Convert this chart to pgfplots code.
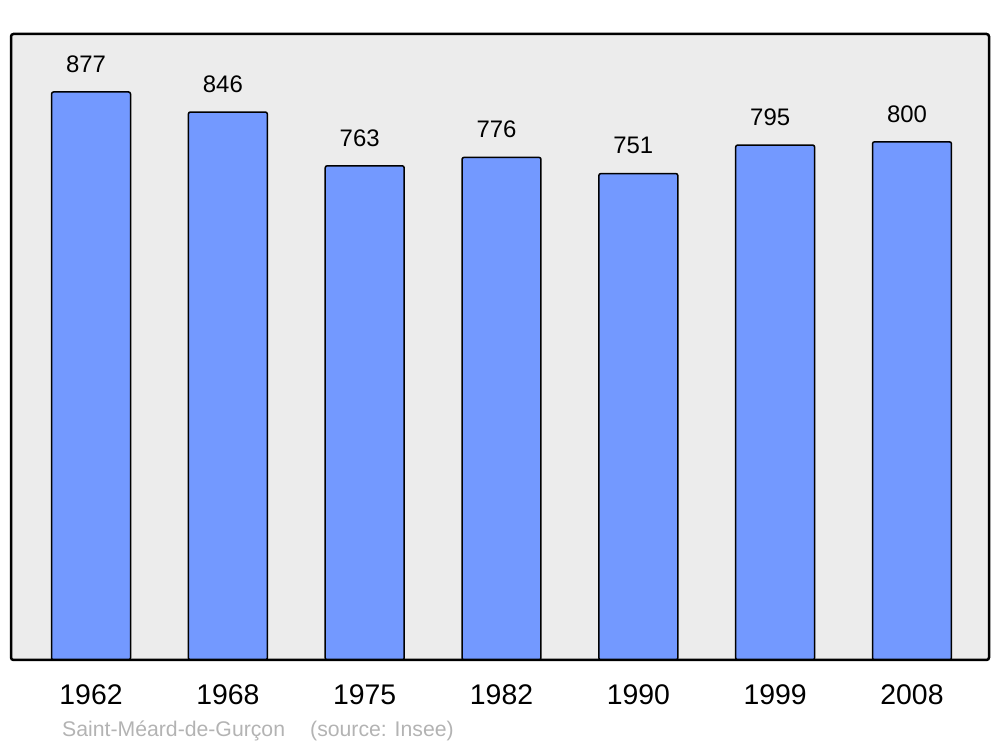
\documentclass[border=0pt]{standalone}
\usepackage{pgfplots}
\pgfplotsset{compat=1.18}
\usepackage{fontspec}
\setmainfont{Liberation Sans}
\definecolor{barblue}{HTML}{7399FF}
\definecolor{bgc}{HTML}{ECECEC}
\definecolor{foot}{HTML}{B3B3B3}
\begin{document}
\begin{tikzpicture}[x=1bp,y=1bp]
\path[use as bounding box] (0,0) rectangle (1000,747);
\begin{axis}[
  at={(11bp,87bp)}, anchor=south west,
  scale only axis, width=978bp, height=626bp,
  xmin=-0.585, xmax=6.563, ymin=0, ymax=966.5,
  axis background/.style={fill=bgc},
  axis line style={draw=none},
  ytick=\empty,
  xtick={0,1,2,3,4,5,6},
  xticklabels={1962,1968,1975,1982,1990,1999,2008},
  major tick length=0pt,
  xticklabel style={anchor=center, yshift=-35bp, font=\fontsize{28.5}{28.5}\selectfont},
  ybar, bar width=0.577,
  /pgf/number format/assume math mode=true,
  nodes near coords,
  every node near coord/.append style={anchor=center, yshift=28bp, xshift=-5bp, font=\fontsize{24}{24}\selectfont, text=black},
  clip=false,
]
\addplot[fill=barblue, draw=black, line width=1.5bp, rounded corners=2bp] coordinates {
 (0,877) (1,846) (2,763) (3,776) (4,751) (5,795) (6,800)};
\draw[line width=2.5bp, rounded corners=2.5bp] (rel axis cs:0,0) rectangle (rel axis cs:1,1);
\end{axis}
\node[anchor=west, inner sep=0, text=foot, font=\fontsize{21.3}{21.3}\selectfont] at (62,16) {Saint-Méard-de-Gurçon};
\node[anchor=west, inner sep=0, text=foot, font=\fontsize{21.3}{21.3}\selectfont] at (310,16) {(source: Insee)};
\end{tikzpicture}
\end{document}
